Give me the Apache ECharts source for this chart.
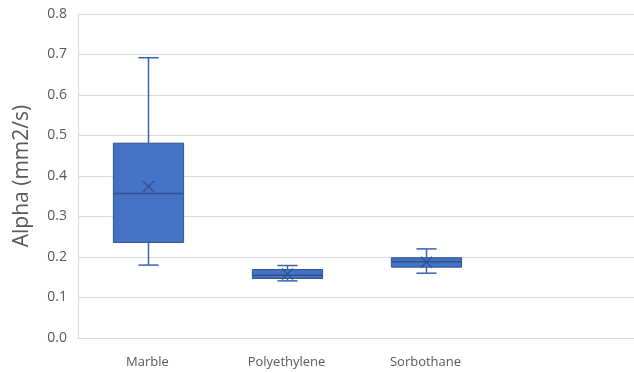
<!DOCTYPE html>
<html>
<head>
<meta charset="utf-8">
<script src="https://cdn.jsdelivr.net/npm/echarts@6/dist/echarts.min.js"></script>
<style>
  html, body { margin: 0; padding: 0; background: #ffffff; }
  #chart { width: 634px; height: 373px; }
</style>
</head>
<body>
<div id="chart"></div>
<script>
// Materials on the category axis (last slot left empty)
const categories = ['Marble', 'Polyethylene', 'Sorbothane', ''];

// Five-number summaries and means of thermal diffusivity (mm2/s)
const minValues    = [0.180, 0.141, 0.160];
const q1Values     = [0.236, 0.147, 0.175];
const medianValues = [0.357, 0.155, 0.188];
const q3Values     = [0.481, 0.169, 0.198];
const maxValues    = [0.692, 0.179, 0.220];
const meanValues   = [0.374, 0.158, 0.187];

// Value axis range
const yMin = 0;
const yMax = 0.8;
const yStep = 0.1;

const boxData = minValues.map((v, i) => [
  i, minValues[i], q1Values[i], medianValues[i], q3Values[i], maxValues[i], meanValues[i]
]);

const fillColor = '#4472C4';
const edgeColor = '#2F528F';
const whiskerColor = '#3A62B2';

function renderBox(params, api) {
  const idx = api.value(0);
  const pMin = api.coord([idx, api.value(1)]);
  const pQ1 = api.coord([idx, api.value(2)]);
  const pMed = api.coord([idx, api.value(3)]);
  const pQ3 = api.coord([idx, api.value(4)]);
  const pMax = api.coord([idx, api.value(5)]);
  const pMean = api.coord([idx, api.value(6)]);
  const band = api.size([1, 0])[0];
  const boxW = band * 0.505;
  const capW = band * 0.145;
  const cx = Math.round(pMed[0]) + 0.5;
  const xs = 5.5;
  const lineStyle = { stroke: whiskerColor, lineWidth: 1.5 };
  return {
    type: 'group',
    children: [
      { type: 'line', shape: { x1: cx, y1: pMax[1], x2: cx, y2: pQ3[1] }, style: lineStyle },
      { type: 'line', shape: { x1: cx, y1: pQ1[1], x2: cx, y2: pMin[1] }, style: lineStyle },
      { type: 'line', shape: { x1: cx - capW / 2, y1: pMax[1], x2: cx + capW / 2, y2: pMax[1] }, style: lineStyle },
      { type: 'line', shape: { x1: cx - capW / 2, y1: pMin[1], x2: cx + capW / 2, y2: pMin[1] }, style: lineStyle },
      {
        type: 'rect',
        shape: { x: cx - boxW / 2, y: pQ3[1], width: boxW, height: pQ1[1] - pQ3[1] },
        style: { fill: fillColor, stroke: edgeColor, lineWidth: 1 }
      },
      { type: 'line', shape: { x1: cx - boxW / 2, y1: pMed[1], x2: cx + boxW / 2, y2: pMed[1] },
        style: { stroke: edgeColor, lineWidth: 1.5 } },
      { type: 'line', shape: { x1: cx - xs, y1: pMean[1] - xs, x2: cx + xs, y2: pMean[1] + xs },
        style: { stroke: edgeColor, lineWidth: 1.3 } },
      { type: 'line', shape: { x1: cx - xs, y1: pMean[1] + xs, x2: cx + xs, y2: pMean[1] - xs },
        style: { stroke: edgeColor, lineWidth: 1.3 } }
    ]
  };
}

const chart = echarts.init(document.getElementById('chart'), null, { renderer: 'canvas' });
chart.setOption({
  animation: false,
  backgroundColor: '#ffffff',
  grid: { left: 78, right: 0, top: 14, bottom: 35, containLabel: false },
  xAxis: {
    type: 'category',
    data: categories,
    boundaryGap: true,
    axisLine: { show: true, lineStyle: { color: '#d9d9d9', width: 1 } },
    axisTick: { show: false },
    axisLabel: { color: '#595959', fontFamily: 'Open Sans', fontSize: 13, margin: 18 },
    splitLine: { show: false }
  },
  yAxis: {
    type: 'value',
    min: yMin,
    max: yMax,
    interval: yStep,
    name: 'Alpha (mm2/s)',
    nameLocation: 'middle',
    nameGap: 45,
    nameTextStyle: { color: '#595959', fontFamily: 'Open Sans', fontSize: 21 },
    axisLine: { show: true, lineStyle: { color: '#d9d9d9', width: 1 } },
    axisTick: { show: false },
    axisLabel: {
      color: '#595959', fontFamily: 'Open Sans', fontSize: 14, margin: 11,
      formatter: v => v.toFixed(1)
    },
    splitLine: { show: true, lineStyle: { color: '#d9d9d9', width: 1 } }
  },
  series: [{
    type: 'custom',
    renderItem: renderBox,
    encode: { x: 0, y: [1, 2, 3, 4, 5, 6] },
    data: boxData,
    z: 3
  }]
});
</script>
</body>
</html>
